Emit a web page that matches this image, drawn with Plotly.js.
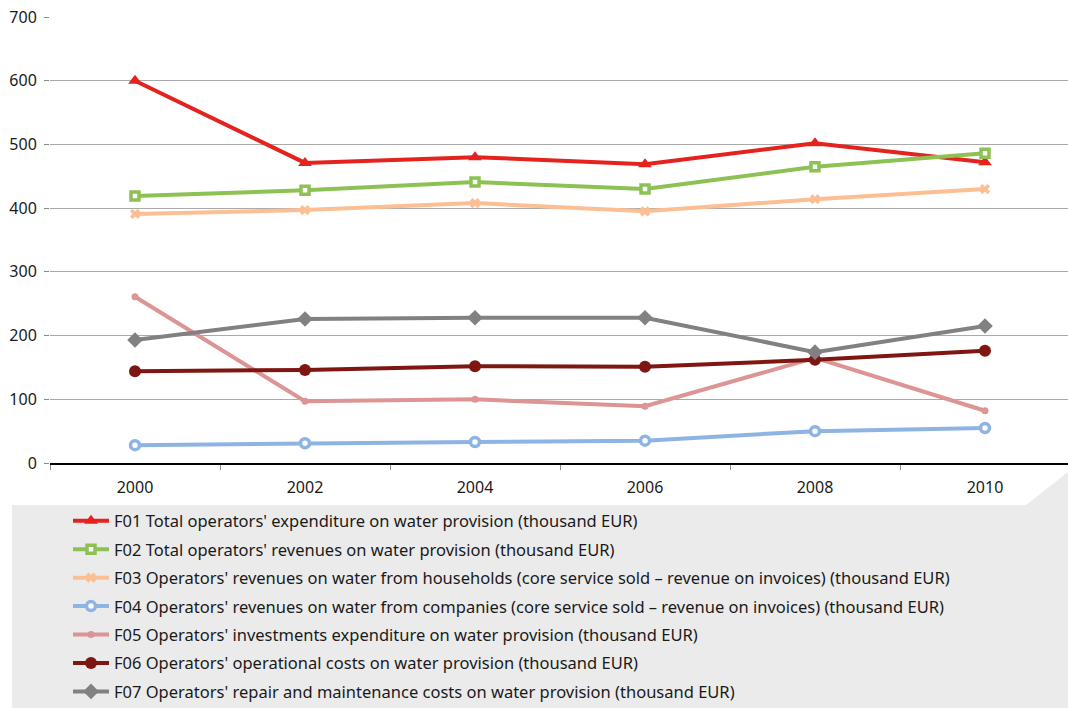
<!DOCTYPE html>
<html>
<head>
<meta charset="utf-8">
<script src="https://cdn.plot.ly/plotly-3.0.1.min.js"></script>
<style>
  html, body { margin: 0; padding: 0; background: #ffffff; }
  #chart { width: 1068px; height: 708px; }
</style>
</head>
<body>
<div id="chart"></div>
<script>
// Years on the horizontal axis
const years = [2000, 2002, 2004, 2006, 2008, 2010];
const yearLabels = ['2000', '2002', '2004', '2006', '2008', '2010'];
const yTicks = [0, 100, 200, 300, 400, 500, 600, 700];

// Series values (thousand EUR)
const f01 = [600, 471, 480, 469, 502, 472];
const f02 = [419, 428, 441, 430, 465, 486];
const f03 = [391, 397, 408, 395, 414, 430];
const f04 = [28, 31, 33, 35, 50, 55];
const f05 = [261, 97, 100, 89, 165, 82];
const f06 = [144, 146, 152, 151, 162, 176];
const f07 = [193, 226, 228, 228, 174, 215];

const names = [
  "F01 Total operators' expenditure on water provision (thousand EUR)",
  "F02 Total operators' revenues on water provision (thousand EUR)",
  "F03 Operators' revenues on water from households (core service sold \u2013 revenue on invoices) (thousand EUR)",
  "F04 Operators' revenues on water from companies (core service sold \u2013 revenue on invoices) (thousand EUR)",
  "F05 Operators' investments expenditure on water provision (thousand EUR)",
  "F06 Operators' operational costs on water provision (thousand EUR)",
  "F07 Operators' repair and maintenance costs on water provision (thousand EUR)"
];

const series = [f01, f02, f03, f04, f05, f06, f07];
const colors = ['#e4231f', '#8dc153', '#fbbf93', '#8eb4e3', '#dc9494', '#7e1711', '#828083'];
const markers = [
  { symbol: 'triangle-up', size: 12, color: colors[0], line: { width: 0 } },
  { symbol: 'square', size: 8, color: '#ffffff', line: { color: colors[1], width: 3.5 } },
  { symbol: 'x', size: 9, color: colors[2], line: { width: 0 } },
  { symbol: 'circle', size: 9, color: '#ffffff', line: { color: colors[3], width: 3.5 } },
  { symbol: 'circle', size: 7, color: colors[4], line: { width: 0 } },
  { symbol: 'circle', size: 12, color: colors[5], line: { width: 0 } },
  { symbol: 'diamond', size: 12, color: colors[6], line: { width: 0 } }
];

const traces = series.map((vals, i) => ({
  type: 'scatter',
  mode: 'lines+markers',
  x: years,
  y: vals,
  name: names[i],
  legendgroup: 'g' + i,
  line: { color: colors[i], width: 4 },
  marker: markers[i],
  cliponaxis: false
}));

// Plot area geometry in pixels
const W = 1068, H = 708;
const mL = 50, mR = 0, mT = 17, mB = 245;
const pw = W - mL - mR, ph = H - mT - mB;
const px = x => (x - mL) / pw;
const py = y => (H - mB - y) / ph;

const legendPanel = [
  [12, 505], [1026, 505], [1068, 472], [1068, 708], [12, 708]
].map(p => px(p[0]).toFixed(4) + ',' + py(p[1]).toFixed(4));

const layout = {
  width: W,
  height: H,
  margin: { l: mL, r: mR, t: mT, b: mB, pad: 0, autoexpand: false },
  paper_bgcolor: '#ffffff',
  plot_bgcolor: '#ffffff',
  font: { family: 'Noto Sans, sans-serif', size: 16, color: '#1a1a1a' },
  showlegend: true,
  xaxis: {
    range: [1999, 1999 + pw / 85],
    tickvals: years,
    ticktext: yearLabels,
    ticks: '',
    showgrid: false,
    zeroline: false,
    showline: true,
    linecolor: '#000000',
    linewidth: 1.5,
    ticklabelstandoff: 9,
    tickfont: { size: 16 },
    minor: {
      tickvals: [1999, 2001, 2003, 2005, 2007, 2009, 2011],
      ticks: 'outside',
      ticklen: 5,
      tickcolor: '#8c8c8c',
      tickwidth: 1,
      showgrid: false
    },
    fixedrange: true
  },
  yaxis: {
    range: [0, 700],
    tickvals: yTicks,
    ticks: 'outside',
    ticklen: 5,
    tickcolor: '#8c8c8c',
    showgrid: true,
    gridcolor: '#a9a9a9',
    gridwidth: 1,
    zeroline: false,
    showline: false,
    ticklabelstandoff: 4,
    tickfont: { size: 16 },
    fixedrange: true
  },
  legend: {
    x: px(68),
    y: py(503.5),
    xanchor: 'left',
    yanchor: 'top',
    bgcolor: 'rgba(0,0,0,0)',
    borderwidth: 0,
    traceorder: 'grouped',
    tracegroupgap: 4,
    itemwidth: 36,
    font: { size: 16.5, color: '#1a1a1a' }
  },
  shapes: [{
    type: 'path',
    xref: 'paper',
    yref: 'paper',
    path: 'M' + legendPanel.join('L') + 'Z',
    fillcolor: '#ebebeb',
    line: { width: 0 },
    layer: 'below'
  }]
};

Plotly.newPlot('chart', traces, layout, { displayModeBar: false, staticPlot: true });
</script>
</body>
</html>
